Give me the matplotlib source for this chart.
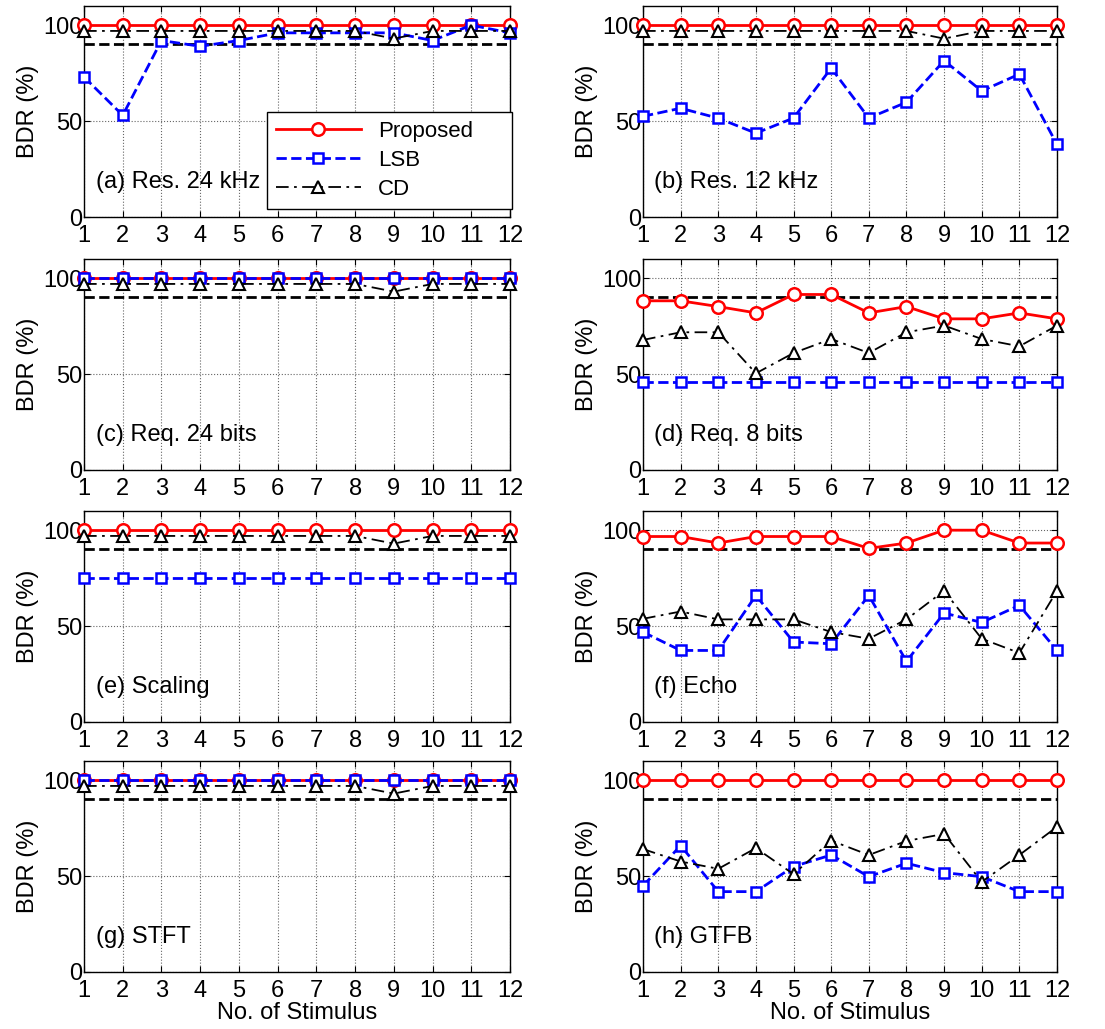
import matplotlib
matplotlib.use("Agg")
import matplotlib.pyplot as plt

plt.rcParams['font.family'] = ['Liberation Sans', 'DejaVu Sans']

stimulus = list(range(1, 13))
threshold = 90

panel_titles = ["(a) Res. 24 kHz", "(b) Res. 12 kHz", "(c) Req. 24 bits", "(d) Req. 8 bits",
                "(e) Scaling", "(f) Echo", "(g) STFT", "(h) GTFB"]

proposed_a = [100] * 12
lsb_a = [73, 53, 92, 89, 92, 96, 96, 96, 96, 92, 100, 96]
cd_a = [97, 97, 97, 97, 97, 97, 97, 97, 93, 97, 97, 97]

proposed_b = [100] * 12
lsb_b = [52.5, 56.7, 51.5, 43.7, 51.6, 77.6, 51.6, 59.8, 81.5, 65.7, 74.5, 37.8]
cd_b = [97, 97, 97, 97, 97, 97, 97, 97, 93, 97, 97, 97]

proposed_c = [100] * 12
lsb_c = [100] * 12
cd_c = [97, 97, 97, 97, 97, 97, 97, 97, 93, 97, 97, 97]

proposed_d = [88.2, 88.2, 85.2, 81.9, 91.5, 91.5, 81.9, 85.2, 78.8, 78.8, 81.9, 78.8]
lsb_d = [45.7] * 12
cd_d = [67.8, 71.8, 71.8, 50.4, 61.0, 68.3, 61.0, 71.8, 75.3, 68.3, 64.5, 75.3]

proposed_e = [100] * 12
lsb_e = [75] * 12
cd_e = [97, 97, 97, 97, 97, 97, 97, 97, 93, 97, 97, 97]

proposed_f = [96.7, 96.7, 93.3, 96.7, 96.7, 96.7, 90.5, 93.3, 100, 100, 93.3, 93.3]
lsb_f = [46.9, 37.3, 37.3, 66.0, 41.7, 40.8, 66.0, 31.6, 56.8, 51.9, 60.8, 37.3]
cd_f = [53.8, 57.6, 53.5, 53.5, 53.5, 46.9, 43.4, 53.5, 68.4, 43.4, 36.0, 68.4]

proposed_g = [100] * 12
lsb_g = [100] * 12
cd_g = [97, 97, 97, 97, 97, 97, 97, 97, 93, 97, 97, 97]

proposed_h = [100] * 12
lsb_h = [44.9, 65.9, 41.9, 41.9, 55.0, 61.0, 49.7, 56.7, 51.8, 49.7, 41.9, 41.9]
cd_h = [64.1, 57.6, 53.8, 64.6, 51.0, 68.5, 61.0, 68.3, 72.0, 47.0, 61.0, 75.7]

proposed_all = [proposed_a, proposed_b, proposed_c, proposed_d, proposed_e, proposed_f, proposed_g, proposed_h]
lsb_all = [lsb_a, lsb_b, lsb_c, lsb_d, lsb_e, lsb_f, lsb_g, lsb_h]
cd_all = [cd_a, cd_b, cd_c, cd_d, cd_e, cd_f, cd_g, cd_h]

W, H = 1105, 1029
fig = plt.figure(figsize=(W / 100, H / 100), dpi=100)

col_left = [84, 643]
col_width = [426, 414]
row_top = [6, 259, 511, 761]
row_h = 211

FS = 17
for i in range(8):
    r, c = divmod(i, 2)
    ax = fig.add_axes([col_left[c] / W, 1 - (row_top[r] + row_h) / H, col_width[c] / W, row_h / H])
    ax.plot([stimulus[0], stimulus[-1]], [threshold, threshold], color='black', ls='--', lw=2, zorder=2)
    ax.plot(stimulus, proposed_all[i], color='red', ls='-', lw=2, marker='o', ms=9,
            mfc='white', mec='red', mew=1.8, label='Proposed', clip_on=False, zorder=3)
    ax.plot(stimulus, lsb_all[i], color='blue', ls='--', lw=2, marker='s', ms=6.5,
            mfc='white', mec='blue', mew=1.8, label='LSB', clip_on=False, zorder=4)
    ax.plot(stimulus, cd_all[i], color='black', ls=(0, (7, 3, 1.5, 3)), lw=1.3, marker='^', ms=9,
            mfc='white', mec='black', mew=1.5, label='CD', clip_on=False, zorder=5)
    ax.set_xlim(1, 12)
    ax.set_ylim(0, 110)
    ax.set_xticks(stimulus)
    ax.set_yticks([0, 50, 100])
    ax.tick_params(direction='in', top=True, right=True, labelsize=FS, length=4)
    ax.tick_params(axis='x', pad=6)
    ax.tick_params(axis='y', pad=1)
    ax.grid(True, ls=':', color='#666666', lw=0.8)
    for s in ax.spines.values():
        s.set_linewidth(1.0)
    ax.set_ylabel('BDR (%)', fontsize=FS, labelpad=3)
    ax.text(1.3, 18, panel_titles[i], fontsize=FS, va='center', ha='left')
    if r == 3:
        ax.set_xlabel('No. of Stimulus', fontsize=FS, labelpad=0)
    if i == 0:
        leg = ax.legend(loc='lower left', bbox_to_anchor=(0.43, 0.038, 0.575, 0.417), mode='expand',
                        fontsize=16, fancybox=False, edgecolor='black', framealpha=1,
                        borderaxespad=0, handlelength=3.8, handletextpad=0.8,
                        labelspacing=0.36, borderpad=0.4)
        leg.get_frame().set_linewidth(1.0)

fig.savefig('out.png', dpi=100)
